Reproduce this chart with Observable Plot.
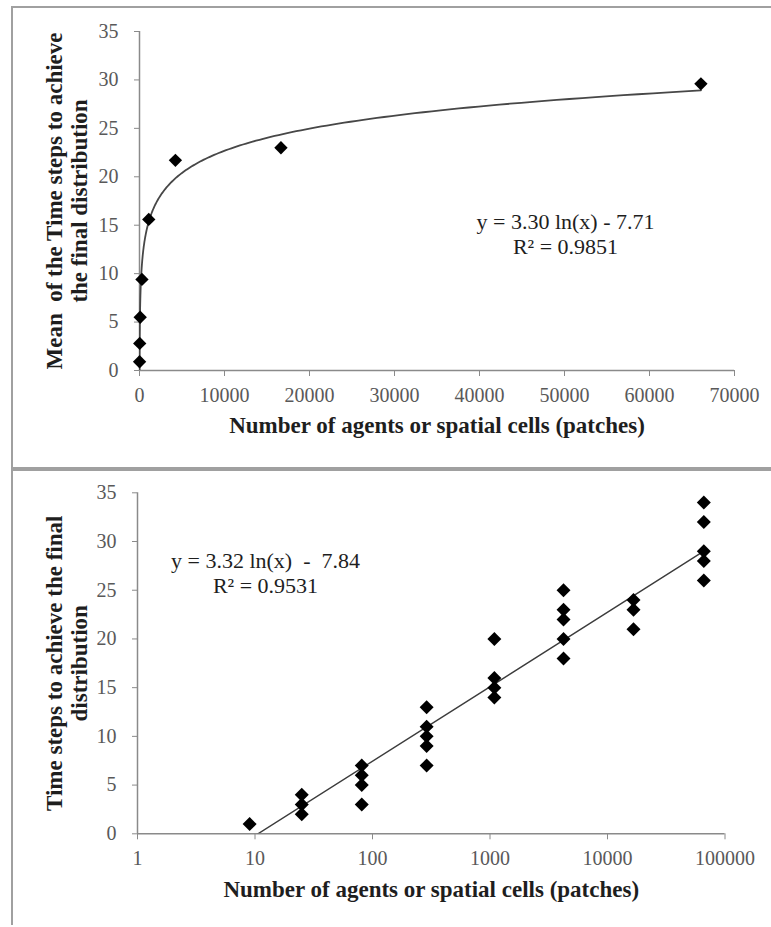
<!DOCTYPE html>
<html><head><meta charset="utf-8">
<script src="https://cdn.jsdelivr.net/npm/d3@7"></script>
<script src="https://cdn.jsdelivr.net/npm/@observablehq/plot@0.6"></script>
<style>
html,body{margin:0;padding:0;background:#fff;width:771px;height:927px;overflow:hidden;position:relative;}
#top,#bottom{position:absolute;left:0;}
#top{top:0;} #bottom{top:468px;}
.frame{position:absolute;box-sizing:border-box;border-color:#a0a0a0;border-style:solid;}
svg text{font-family:"Liberation Serif","Times New Roman",serif !important;}
</style></head><body>
<div class="frame" style="left:11px;top:6px;width:770px;height:463px;border-width:2px 0 2px 2px"></div>
<div class="frame" style="left:11px;top:469px;width:770px;height:456px;border-width:2px 0 0 2px"></div>
<div id="top"></div><div id="bottom"></div>
<script>
// ---- data ----
const topX = [9, 25, 81, 289, 1089, 4225, 16641, 66049];
const topMean = [0.9, 2.8, 5.5, 9.4, 15.6, 21.7, 23.0, 29.6];
const topFit = [3.30, -7.71];
const topEq = ["y = 3.30 ln(x) - 7.71", "R² = 0.9851"];

const runX = [9, 25, 25, 25, 81, 81, 81, 81, 289, 289, 289, 289, 289, 1089, 1089, 1089, 1089, 4225, 4225, 4225, 4225, 4225, 16641, 16641, 16641, 66049, 66049, 66049, 66049, 66049];
const runY = [1, 2, 3, 4, 3, 5, 6, 7, 7, 9, 10, 11, 13, 14, 15, 16, 20, 18, 20, 22, 23, 25, 21, 23, 24, 26, 28, 29, 32, 34];
const bottomFit = [3.32, -7.84];
const bottomEq = ["y = 3.32 ln(x)  -  7.84", "R² = 0.9531"];

const topXTicks = [0, 10000, 20000, 30000, 40000, 50000, 60000, 70000];
const logXTicks = [1, 10, 100, 1000, 10000, 100000];
const yTicks = [0, 5, 10, 15, 20, 25, 30, 35];

const xTitle = "Number of agents or spatial cells (patches)";
const topYTitle = "Mean  of the Time steps to achieve\nthe final distribution";
const bottomYTitle = "Time steps to achieve the final\ndistribution";

// ---- derived tables ----
const topPts = topX.map((x, i) => ({x, y: topMean[i]}));
const runPts = runX.map((x, i) => ({x, y: runY[i]}));
const xMin = d3.min(topX), xMax = d3.max(topX);
const curveXs = d3.range(0, 301).map(i => xMin * Math.pow(xMax / xMin, i / 300));
const topCurve = curveXs.map(x => ({x, y: topFit[0] * Math.log(x) + topFit[1]}));
const bottomLine = [xMin, xMax].map(x => ({x, y: bottomFit[0] * Math.log(x) + bottomFit[1]}));

const font = "'Liberation Serif', 'Times New Roman', serif";
const axisGray = "#8a8a8a", labelGray = "#595959", ink = "#1e1e1e";

function axes(xTicks) {
  return [
    Plot.axisX(xTicks, {tickSize: 6, tickPadding: 11, fontSize: 20, fontFamily: font, stroke: axisGray, fill: labelGray, tickFormat: d => String(d), label: null}),
    Plot.axisY(yTicks, {tickSize: 5, tickPadding: 16, fontSize: 20, fontFamily: font, stroke: axisGray, fill: labelGray, label: null})
  ];
}

const topPlot = Plot.plot({
  width: 771, height: 468,
  marginLeft: 139, marginRight: 37, marginTop: 31, marginBottom: 98,
  style: {fontFamily: font, background: "transparent", overflow: "visible"},
  x: {domain: [0, 70000], axis: null},
  y: {domain: [0, 35], axis: null},
  marks: [
    Plot.ruleY([0], {stroke: axisGray, strokeWidth: 1.5}),
    Plot.ruleX([0], {stroke: axisGray, strokeWidth: 1.5}),
    ...axes(topXTicks),
    Plot.line(topCurve, {x: "x", y: "y", clip: true, stroke: "#474747", strokeWidth: 1.8}),
    Plot.dot(topPts, {x: "x", y: "y", symbol: "diamond2", r: 6, fill: "#000", stroke: "none"}),
    Plot.text([xTitle], {text: d => d, frameAnchor: "bottom", dy: 55.5, lineAnchor: "middle", fontSize: 23, fontWeight: "bold", fill: ink}),
    Plot.text([topYTitle], {text: d => d, frameAnchor: "left", dx: -73.5, rotate: -90, textAnchor: "middle", lineAnchor: "middle", lineHeight: 25/23, fontSize: 23, fontWeight: "bold", fill: ink}),
    Plot.text([topEq.join("\n")], {text: d => d, frameAnchor: "top-left", dx: 426, dy: 202, textAnchor: "middle", lineAnchor: "middle", lineHeight: 25/22, fontSize: 22, fill: ink})
  ]
});
document.getElementById("top").appendChild(topPlot);

const bottomPlot = Plot.plot({
  width: 771, height: 459,
  marginLeft: 137, marginRight: 46.5, marginTop: 24.3, marginBottom: 93.7,
  style: {fontFamily: font, background: "transparent", overflow: "visible"},
  x: {type: "log", domain: [1, 100000], axis: null},
  y: {domain: [0, 35], axis: null},
  marks: [
    Plot.ruleY([0], {stroke: axisGray, strokeWidth: 1.5}),
    Plot.ruleX([1], {stroke: axisGray, strokeWidth: 1.5}),
    ...axes(logXTicks),
    Plot.line(bottomLine, {x: "x", y: "y", clip: true, stroke: "#3c3c3c", strokeWidth: 1.4}),
    Plot.dot(runPts, {x: "x", y: "y", symbol: "diamond2", r: 6.3, fill: "#000", stroke: "none"}),
    Plot.text([xTitle], {text: d => d, frameAnchor: "bottom", dy: 56, lineAnchor: "middle", fontSize: 23, fontWeight: "bold", fill: ink}),
    Plot.text([bottomYTitle], {text: d => d, frameAnchor: "left", dx: -71.5, rotate: -90, textAnchor: "middle", lineAnchor: "middle", lineHeight: 25/23, fontSize: 23, fontWeight: "bold", fill: ink}),
    Plot.text([bottomEq.join("\n")], {text: d => d, frameAnchor: "top-left", dx: 128, dy: 80, textAnchor: "middle", lineAnchor: "middle", lineHeight: 25/22, fontSize: 22, fill: ink})
  ]
});
document.getElementById("bottom").appendChild(bottomPlot);
</script>
</body></html>
